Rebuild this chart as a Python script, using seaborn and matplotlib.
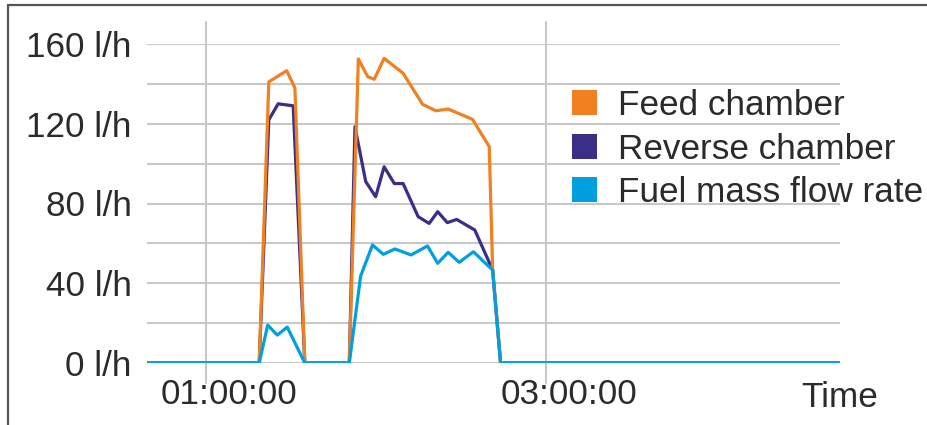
import numpy as np
import pandas as pd
import seaborn as sns
import matplotlib.pyplot as plt
import matplotlib.transforms as mtransforms
from matplotlib.patches import Patch
from matplotlib.lines import Line2D

# time in minutes, values in l/h
feed_t = [39.2, 78.8, 82.2, 88.5, 91.4, 94.9, 110.6, 113.8, 117.1, 119.4, 122.9, 129.6,
          136.5, 141.2, 145.5, 154.1, 160.0, 161.2, 164.0, 283.8]
feed_v = [0, 0, 141, 146.6, 138, 0, 0, 152.5, 143.6, 142.3, 152.8, 145.3,
          129.7, 126.5, 127.4, 122.2, 108.5, 46.6, 0, 0]

reverse_t = [39.2, 78.8, 82.2, 85.5, 90.8, 94.9, 110.6, 112.6, 116.4, 119.9, 122.9, 126.5,
             129.6, 134.9, 138.8, 141.8, 145.2, 148.5, 154.9, 161.2, 164.0, 283.8]
reverse_v = [0, 0, 122, 130, 129, 0, 0, 118.5, 91, 83.4, 98.4, 90,
             90, 73.4, 70, 75.9, 70.4, 72, 66.7, 46.6, 0, 0]

fuel_t = [39.2, 78.8, 81.8, 85.2, 88.7, 94.9, 110.6, 114.6, 118.8, 122.6, 126.7, 132.4,
          138.2, 141.8, 145.5, 149.4, 154.4, 161.2, 164.0, 283.8]
fuel_v = [0, 0, 19, 14, 18, 0, 0, 43.6, 59.2, 54.5, 57.2, 54.2,
          58.7, 50, 55.5, 50.5, 55.8, 46.6, 0, 0]

series_names = ['Feed chamber', 'Reverse chamber', 'Fuel mass flow rate']
colors = {'Feed chamber': '#F08020', 'Reverse chamber': '#3A2E87', 'Fuel mass flow rate': '#00A0E0'}

y_ticks = [0, 40, 80, 120, 160]
y_labels = ['0 l/h', '40 l/h', '80 l/h', '120 l/h', '160 l/h']
x_ticks = [60, 180]
x_labels = ['01:00:00', '03:00:00']

df = pd.concat([
    pd.DataFrame({'t': feed_t, 'v': feed_v, 'series': 'Feed chamber'}),
    pd.DataFrame({'t': reverse_t, 'v': reverse_v, 'series': 'Reverse chamber'}),
    pd.DataFrame({'t': fuel_t, 'v': fuel_v, 'series': 'Fuel mass flow rate'}),
], ignore_index=True)

sns.set_theme(style='white')
plt.rcParams['font.family'] = ['Liberation Sans', 'DejaVu Sans']
fs = 25.3
txt_c = '#2b2b2b'

fig = plt.figure(figsize=(9.28, 4.25), dpi=100)
ax = fig.add_axes([147/928, 1 - 363/425, (840-147)/928, (363-44)/425])

grid_c = '#C8C8C8'
for yv in range(0, 161, 20):
    ax.axhline(yv, color=grid_c, lw=1.5, zorder=0)
for xv in x_ticks:
    ax.axvline(xv, ymin=-0.063, ymax=1.07, color=grid_c, lw=1.5, zorder=0, clip_on=False)

sns.lineplot(data=df, x='t', y='v', hue='series',
             hue_order=['Reverse chamber', 'Feed chamber', 'Fuel mass flow rate'],
             palette=colors, estimator=None, sort=False, lw=2.3, legend=False, ax=ax)

ax.set_xlim(min(feed_t), max(feed_t))
ax.set_ylim(0, 160)
sns.despine(ax=ax, left=True, bottom=True)

ax.set_yticks(y_ticks)
ax.set_yticklabels(y_labels)
ax.set_xticks(x_ticks)
ax.set_xticklabels(x_labels)
ax.tick_params(axis='both', length=0, labelsize=fs, colors=txt_c)
ax.tick_params(axis='y', pad=11)
ax.tick_params(axis='x', pad=11)
shift = mtransforms.ScaledTranslation(0.23, 0, fig.dpi_scale_trans)
for lab in ax.get_xticklabels():
    lab.set_transform(lab.get_transform() + shift)

ax.set_xlabel('Time', fontsize=fs, color=txt_c)
ax.set_ylabel('')
ax.xaxis.set_label_coords(1.0, -0.107)
ax.xaxis.label.set_verticalalignment('center')

handles = [Patch(facecolor=colors[n], edgecolor='none', label=n) for n in series_names]
fig.legend(handles=handles, loc='upper left', bbox_to_anchor=(572/928, 1 - 89/425),
           frameon=False, fontsize=fs, handlelength=0.7, handleheight=0.7,
           handletextpad=0.62, labelspacing=0.3, borderpad=0, borderaxespad=0,
           labelcolor=txt_c)

# frame on the top and left edge
fig.add_artist(Line2D([8/928, 1], [1 - 4.5/425, 1 - 4.5/425], color='#555555', lw=1.6))
fig.add_artist(Line2D([8/928, 8/928], [0, 1 - 4.5/425], color='#555555', lw=1.6))

fig.savefig('out.png', dpi=100)
